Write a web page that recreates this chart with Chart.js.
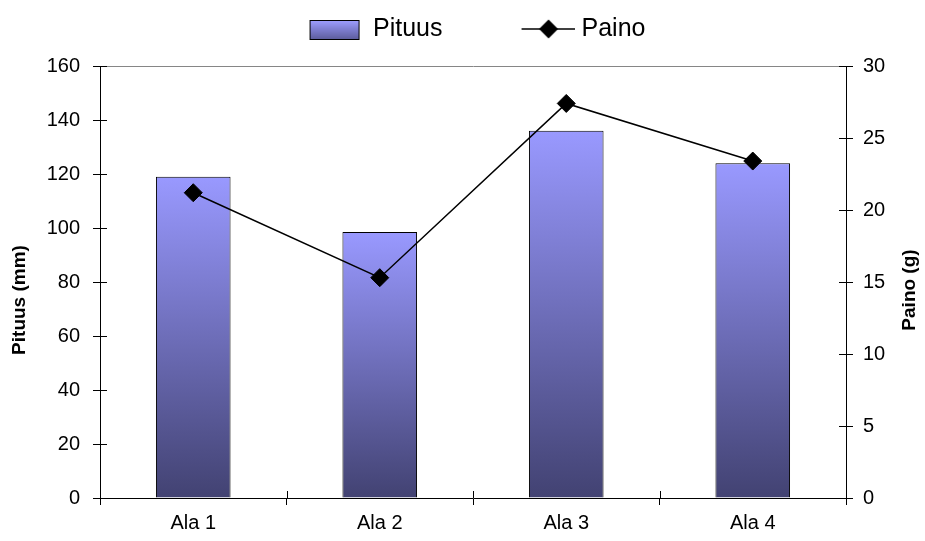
<!DOCTYPE html>
<html>
<head>
<meta charset="utf-8">
<script src="https://cdn.jsdelivr.net/npm/chart.js@4/dist/chart.umd.min.js"></script>
<style>
  html, body { margin: 0; padding: 0; background: #ffffff; }
  #wrap { width: 925px; height: 541px; }
</style>
</head>
<body>
<div id="wrap"><canvas id="c" width="925" height="541"></canvas></div>
<script>
// ---- data ----
const categories = ['Ala 1', 'Ala 2', 'Ala 3', 'Ala 4'];
const pituusValues = [119, 98.5, 136, 124];
const painoValues = [21.2, 15.3, 27.4, 23.4];
const pituusTicks = [0, 20, 40, 60, 80, 100, 120, 140, 160];
const painoTicks = [0, 5, 10, 15, 20, 25, 30];
const seriesNames = ['Pituus', 'Paino'];
const axisTitles = ['Pituus (mm)', 'Paino (g)'];

// ---- styles ----
const FONT = "'Liberation Sans', Arial, Helvetica, sans-serif";
const BAR_TOP = '#9999ff';
const BAR_BOTTOM = '#424272';

function makeBarLegendImage(w, h) {
  const c = document.createElement('canvas');
  c.width = w; c.height = h;
  const g = c.getContext('2d');
  const bw = 50, bh = 19;
  const x0 = w - bw - 0.5, y0 = Math.round((h - bh) / 2) + 0.5;
  const grad = g.createLinearGradient(0, y0, 0, y0 + bh);
  grad.addColorStop(0, '#9d9dff');
  grad.addColorStop(1, '#5c5c9c');
  g.fillStyle = grad;
  g.fillRect(x0, y0, bw - 1, bh);
  g.strokeStyle = '#000'; g.lineWidth = 1;
  g.strokeRect(x0, y0, bw - 1, bh);
  return c;
}
function makeLineLegendImage(w, h) {
  const c = document.createElement('canvas');
  c.width = w; c.height = h;
  const g = c.getContext('2d');
  const cy = h / 2;
  g.strokeStyle = '#000'; g.lineWidth = 1.5;
  g.beginPath(); g.moveTo(w - 53, cy); g.lineTo(w, cy); g.stroke();
  const cx = w - 26, r = 9.5;
  g.fillStyle = '#000';
  g.beginPath(); g.moveTo(cx, cy - r); g.lineTo(cx + r, cy); g.lineTo(cx, cy + r); g.lineTo(cx - r, cy); g.closePath(); g.fill();
  return c;
}
const LEG_W = 110;
const legendImages = [makeBarLegendImage(LEG_W, 26), makeLineLegendImage(LEG_W + 11, 26)];

const decor = {
  id: 'decor',
  afterDraw(chart) {
    const { ctx, chartArea: a, scales } = chart;
    const ys = scales.y, y1 = scales.y1, xs = scales.x;
    ctx.save();
    ctx.strokeStyle = '#000';
    ctx.lineWidth = 1;
    ctx.beginPath();
    pituusTicks.forEach(v => {
      const p = Math.round(ys.getPixelForValue(v)) + 0.5;
      ctx.moveTo(a.left, p); ctx.lineTo(a.left + 7, p);
    });
    painoTicks.forEach(v => {
      const p = Math.round(y1.getPixelForValue(v)) + 0.5;
      ctx.moveTo(a.right - 7, p); ctx.lineTo(a.right, p);
    });
    for (let i = 0; i <= categories.length; i++) {
      const p = Math.round(xs.getPixelForValue(i - 0.5)) + 0.5;
      ctx.moveTo(p, a.bottom); ctx.lineTo(p, a.bottom - 7);
    }
    ctx.stroke();
    ctx.fillStyle = '#000';
    ctx.font = 'bold 19px ' + FONT;
    ctx.textAlign = 'center';
    ctx.textBaseline = 'middle';
    const mid = (a.top + a.bottom) / 2;
    ctx.save();
    ctx.translate(ys.left + 10, mid + 18);
    ctx.rotate(-Math.PI / 2);
    ctx.fillText(axisTitles[0], 0, 0);
    ctx.restore();
    ctx.save();
    ctx.translate(y1.right + 24, mid + 8);
    ctx.rotate(-Math.PI / 2);
    ctx.fillText(axisTitles[1], 0, 0);
    ctx.restore();
    ctx.restore();
  }
};

const tickFont = { family: FONT, size: 20 };

new Chart(document.getElementById('c'), {
  data: {
    labels: categories,
    datasets: [
      {
        type: 'bar',
        label: seriesNames[0],
        data: pituusValues,
        yAxisID: 'y',
        order: 1,
        borderColor: '#000',
        borderWidth: 1,
        barPercentage: 0.4,
        categoryPercentage: 1.0,
        backgroundColor: (c) => {
          const chart = c.chart;
          if (!chart.chartArea || c.type !== 'data' || !chart.scales.y) return BAR_TOP;
          const ys = chart.scales.y;
          const top = ys.getPixelForValue(c.parsed.y);
          const bottom = ys.getPixelForValue(0);
          if (!isFinite(top) || !isFinite(bottom) || top === bottom) return BAR_TOP;
          const g = chart.ctx.createLinearGradient(0, top, 0, bottom);
          g.addColorStop(0, BAR_TOP);
          g.addColorStop(1, BAR_BOTTOM);
          return g;
        }
      },
      {
        type: 'line',
        label: seriesNames[1],
        data: painoValues,
        yAxisID: 'y1',
        order: 0,
        borderColor: '#000',
        borderWidth: 1.5,
        tension: 0,
        fill: false,
        pointStyle: 'rectRot',
        pointRadius: 9,
        pointHoverRadius: 9,
        pointBackgroundColor: '#000',
        pointBorderColor: '#000',
        pointBorderWidth: 1
      }
    ]
  },
  options: {
    responsive: false,
    animation: false,
    devicePixelRatio: 1,
    layout: { padding: { left: 10, right: 39, top: 0, bottom: 0 } },
    plugins: {
      tooltip: { enabled: false },
      title: {
        display: true, text: '', position: 'top', weight: 500,
        padding: { top: 0, bottom: 4.5 }, font: { size: 10, lineHeight: 1 }
      },
      legend: {
        display: true,
        position: 'top',
        labels: {
          usePointStyle: true,
          pointStyleWidth: LEG_W,
          padding: 16.5,
          color: '#000',
          font: { family: FONT, size: 25 },
          sort: (a, b) => a.datasetIndex - b.datasetIndex,
          generateLabels: (chart) => {
            const items = Chart.defaults.plugins.legend.labels.generateLabels(chart);
            items.forEach(it => { it.pointStyle = legendImages[it.datasetIndex]; });
            return items;
          }
        }
      }
    },
    scales: {
      x: {
        type: 'category',
        offset: true,
        grid: { display: true, drawOnChartArea: false, drawTicks: true, tickLength: 7, color: '#000', offset: true },
        border: { display: true, color: '#000', width: 1 },
        ticks: { color: '#000', font: tickFont, padding: 6, maxRotation: 0 }
      },
      y: {
        type: 'linear',
        position: 'left',
        min: 0, max: 160,
        afterBuildTicks: (s) => { s.ticks = pituusTicks.map(v => ({ value: v })); },
        afterFit: (s) => { s.width = 90; },
        grid: {
          display: true, drawOnChartArea: true, drawTicks: true, tickLength: 7,
          color: (c) => (c.tick && c.tick.value === 160) ? '#868686' : 'rgba(0,0,0,0)',
          tickColor: '#000'
        },
        border: { display: true, color: '#000', width: 1 },
        ticks: { color: '#000', font: tickFont, padding: 13 }
      },
      y1: {
        type: 'linear',
        position: 'right',
        min: 0, max: 30,
        afterBuildTicks: (s) => { s.ticks = painoTicks.map(v => ({ value: v })); },
        afterFit: (s) => { s.width = 40; },
        grid: { display: true, drawOnChartArea: false, drawTicks: true, tickLength: 7, color: '#000', tickColor: '#000' },
        border: { display: true, color: '#000', width: 1 },
        ticks: { color: '#000', font: tickFont, padding: 10 }
      }
    }
  },
  plugins: [decor]
});
</script>
</body>
</html>
